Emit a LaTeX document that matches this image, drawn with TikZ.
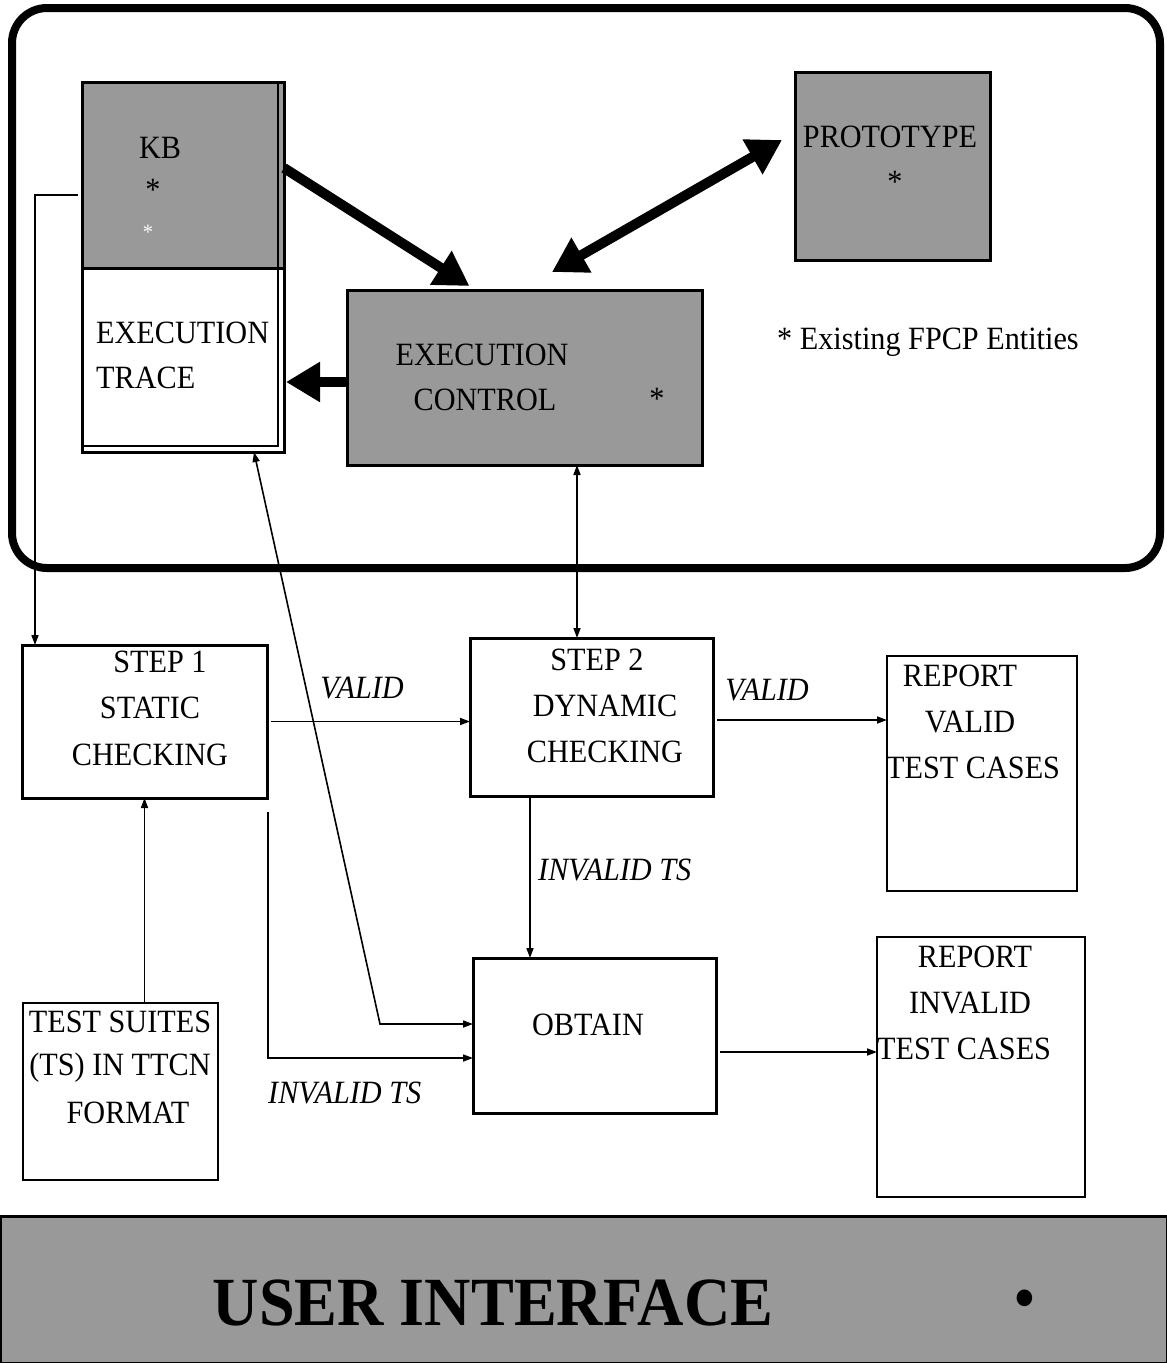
\documentclass[tikz,border=0pt]{standalone}
\usepackage{fontspec}
\setmainfont{Liberation Serif}[FakeStretch=0.93]
\usetikzlibrary{arrows.meta}
\begin{document}
\begin{tikzpicture}[x=1pt,y=-1pt,
  box/.style={draw, line width=3pt, inner sep=0pt, outer sep=0pt},
  thinbox/.style={draw, line width=2.2pt, inner sep=0pt, outer sep=0pt},
  shaded/.style={fill=black!40},
  lbl/.style={inner sep=0pt, font=\fontsize{32.5}{38}\selectfont},
  ilbl/.style={inner sep=0pt, font=\fontsize{32.5}{38}\selectfont\itshape},
  bigarrow/.style={line width=10pt, -{Triangle[length=34pt,width=38pt]}},
  bigdouble/.style={line width=10pt, {Triangle[length=34pt,width=38pt]}-{Triangle[length=34pt,width=38pt]}},
  thinarrow/.style={line width=1.6pt, -{Triangle[length=10pt,width=7pt]}},
  thindouble/.style={line width=1.6pt, {Triangle[length=10pt,width=7pt]}-{Triangle[length=10pt,width=7pt]}},
]
\useasboundingbox (0,0) rectangle (1167,1363);

% environment frame
\node[draw, line width=8pt, rounded corners=35pt, inner sep=0pt,
      minimum width=1148pt, minimum height=560pt] (frame) at (586,288) {};

% knowledge base with execution trace below
\node[box, shaded, minimum width=202pt, minimum height=186pt] (kb) at (183,175) {};
\node[box, fill=white, minimum width=202pt, minimum height=184pt] (trace) at (183,360) {};
\draw[line width=1.2pt] ([xshift=-6pt]kb.north east) -- ([xshift=-6pt,yshift=6pt]trace.south east)
      -- ([yshift=6pt]trace.south west);
\node[lbl] (kbtxt) at (160,148) {KB};
\node[lbl] (kbstar) at (153,190) {*};
\node[lbl, text=white, font=\fontsize{22}{26}\selectfont] (kbdot) at (148,232) {*};
\node[lbl, anchor=west] (trtxt1) at (96,333) {EXECUTION};
\node[lbl, anchor=west] (trtxt2) at (96,378) {TRACE};

% prototype
\node[box, shaded, minimum width=195pt, minimum height=188pt] (proto) at (892.5,166) {};
\node[lbl] (prtxt) at (890,137) {PROTOTYPE};
\node[lbl] (prstar) at (895,182) {*};

% execution control
\node[box, shaded, minimum width=355pt, minimum height=175pt] (ec) at (524.5,377.5) {};
\node[lbl] (ectxt1) at (482,355) {EXECUTION};
\node[lbl] (ectxt2) at (485,400) {CONTROL};
\node[lbl] (ecstar) at (657,399) {*};

\node[lbl, anchor=west] (legend) at (777,342) {* Existing FPCP Entities};

% checking steps
\node[box, minimum width=245pt, minimum height=153pt] (step1) at (144.5,721.5) {};
\node[lbl] (s1a) at (160,662) {STEP 1};
\node[lbl] (s1b) at (150,708) {STATIC};
\node[lbl] (s1c) at (150,755) {CHECKING};

\node[box, minimum width=243pt, minimum height=158pt] (step2) at (591.5,717) {};
\node[lbl] (s2a) at (597,660) {STEP 2};
\node[lbl] (s2b) at (605,706) {DYNAMIC};
\node[lbl] (s2c) at (605,752) {CHECKING};

% reports
\node[thinbox, minimum width=190pt, minimum height=235pt] (rvalid) at (982,773.5) {};
\node[lbl] (rv1) at (960,676) {REPORT};
\node[lbl] (rv2) at (970,722) {VALID};
\node[lbl, anchor=west] (rv3) at (886,768) {TEST CASES};

\node[thinbox, minimum width=208pt, minimum height=260pt] (rinvalid) at (981,1067) {};
\node[lbl] (ri1) at (975,957) {REPORT};
\node[lbl] (ri2) at (970,1003) {INVALID};
\node[lbl, anchor=west] (ri3) at (877,1049) {TEST CASES};

% obtain and input
\node[box, minimum width=243pt, minimum height=155pt] (obtain) at (594.5,1035.5) {};
\node[lbl] (obtxt) at (588,1025) {OBTAIN};

\node[thinbox, minimum width=195pt, minimum height=177pt] (suites) at (120.5,1091.5) {};
\node[lbl] (ts1) at (120,1022) {TEST SUITES};
\node[lbl] (ts2) at (120,1068) {(TS) IN TTCN};
\node[lbl] (ts3) at (128,1113) {FORMAT};

% user interface bar
\node[draw, line width=3pt, fill=black!40, inner sep=0pt,
      minimum width=1167pt, minimum height=147pt] (ui) at (583.5,1289.5) {};
\node[inner sep=0pt, font=\fontsize{69}{74}\selectfont\bfseries] (uitxt) at (493,1303) {USER INTERFACE};
\node[inner sep=0pt, font=\fontsize{70}{74}\selectfont] (uidot) at (1025,1306) {•};

% heavy connectors
\draw[bigarrow] ([yshift=7pt]kb.east) -- ([xshift=-55pt,yshift=4pt]ec.north);
\draw[bigdouble] ([shift={(27.5pt,18pt)}]ec.north) -- ([shift={(-13pt,26pt)}]proto.west);
\draw[bigarrow] ([yshift=-4.5pt]ec.west) coordinate (ecl) -- ([xshift=2pt]trace.east |- ecl);

% light connectors
\draw[thinarrow] ([yshift=-20pt,xshift=-4pt]kb.west) -| ([xshift=13pt]step1.north west);
\draw[thinarrow] ([xshift=4pt]step1.east) -- (step1.east -| step2.west);
\draw[thinarrow] ([xshift=4pt,yshift=-3pt]step2.east) coordinate (s2r) -- (s2r -| rvalid.west);
\draw[thindouble] ([xshift=52.5pt]ec.south) coordinate (ecb) -- (ecb |- step2.north);
\coordinate (bend) at (380,1024);
\draw[thindouble] ([xshift=71pt]trace.south) -- (bend) -- (bend -| obtain.west);
\coordinate (s1drop) at (268,812);
\draw[thinarrow] (s1drop) |- ([yshift=-22.5pt]obtain.west);
\draw[thinarrow] (step1.south |- suites.north) -- (step1.south);
\draw[thinarrow] ([xshift=-61.5pt]step2.south) coordinate (s2b) -- (s2b |- obtain.north);
\draw[thinarrow] ([xshift=4pt,yshift=-16.5pt]obtain.east) coordinate (obr) -- (obr -| rinvalid.west);

% connector labels
\node[ilbl] (v1) at (362,688) {VALID};
\node[ilbl] (v2) at (767,690) {VALID};
\node[ilbl, anchor=west] (inv1) at (538,870) {INVALID TS};
\node[ilbl, anchor=west] (inv2) at (268,1093) {INVALID TS};
\end{tikzpicture}
\end{document}
